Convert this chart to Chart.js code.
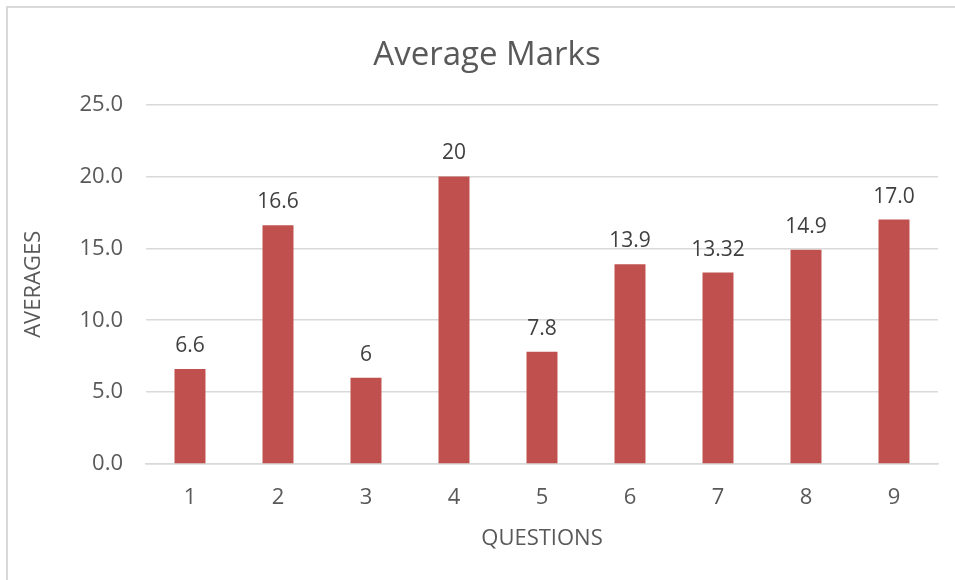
<!DOCTYPE html>
<html>
<head>
<meta charset="utf-8">
<script src="https://cdn.jsdelivr.net/npm/chart.js@4.4.0/dist/chart.umd.min.js"></script>
<style>
  html, body { margin: 0; padding: 0; background: #fff; }
  #wrap { position: relative; width: 955px; height: 580px; }
</style>
</head>
<body>
<div id="wrap"><canvas id="marksChart" width="955" height="580"></canvas></div>
<script>
// chart data
const questions = ["1", "2", "3", "4", "5", "6", "7", "8", "9"];
const averages = [6.6, 16.6, 6, 20, 7.8, 13.9, 13.32, 14.9, 17.0];
const averageLabels = ["6.6", "16.6", "6", "20", "7.8", "13.9", "13.32", "14.9", "17.0"];

const fontFamily = "'Open Sans', 'Noto Sans', sans-serif";
const textColor = "#595959";

// light frame around the chart, like the spreadsheet chart area
const framePlugin = {
  id: "frame",
  beforeDraw(chart) {
    const c = chart.ctx;
    c.save();
    c.strokeStyle = "#d9d9d9";
    c.lineWidth = 2;
    c.beginPath();
    c.moveTo(7, chart.height);
    c.lineTo(7, 7);
    c.lineTo(chart.width, 7);
    c.stroke();
    c.restore();
  }
};

// value labels above each bar
const barLabelPlugin = {
  id: "barLabels",
  afterDatasetsDraw(chart) {
    const c = chart.ctx;
    const meta = chart.getDatasetMeta(0);
    c.save();
    c.font = "21px " + fontFamily;
    c.fillStyle = "#404040";
    c.textAlign = "center";
    c.textBaseline = "alphabetic";
    meta.data.forEach((bar, i) => {
      c.fillText(averageLabels[i], bar.x, bar.y - 17);
    });
    c.restore();
  }
};

const ctx = document.getElementById("marksChart").getContext("2d");

new Chart(ctx, {
  type: "bar",
  data: {
    labels: questions,
    datasets: [{
      label: "Average",
      data: averages,
      backgroundColor: "#c0504d",
      borderWidth: 0,
      barPercentage: 0.352,
      categoryPercentage: 1.0,
    }],
  },
  options: {
    responsive: false,
    animation: false,
    // left padding 36 so the title centres where the reference has it
    layout: { padding: { left: 36, right: 17, top: 0, bottom: 0 } },
    plugins: {
      legend: { display: false },
      tooltip: { enabled: false },
      title: {
        display: true,
        text: "Average Marks",
        color: textColor,
        font: { family: fontFamily, size: 33, weight: "normal" },
        padding: { top: 36, bottom: 29 },
      },
    },
    scales: {
      x: {
        grid: { display: false },
        border: { display: true, color: "#d9d9d9", width: 1.5 },
        ticks: {
          color: textColor,
          font: { family: fontFamily, size: 22 },
          padding: 13,
        },
        title: {
          display: true,
          text: "QUESTIONS",
          color: textColor,
          font: { family: fontFamily, size: 22 },
          padding: { top: 0, bottom: 28 },
        },
        afterFit(scale) { scale.height = 116; },
      },
      y: {
        min: 0,
        max: 25,
        grid: { color: "#d9d9d9", lineWidth: 1.5, drawTicks: false },
        border: { display: false },
        ticks: {
          stepSize: 5,
          color: textColor,
          font: { family: fontFamily, size: 22 },
          padding: 23,
          callback: (v) => Number(v).toFixed(1),
        },
        title: {
          display: true,
          text: "AVERAGES",
          color: textColor,
          font: { family: fontFamily, size: 22 },
          padding: { top: -15, bottom: 0 },
        },
        afterFit(scale) { scale.width = 110; },
      },
    },
  },
  plugins: [framePlugin, barLabelPlugin],
});
</script>
</body>
</html>
